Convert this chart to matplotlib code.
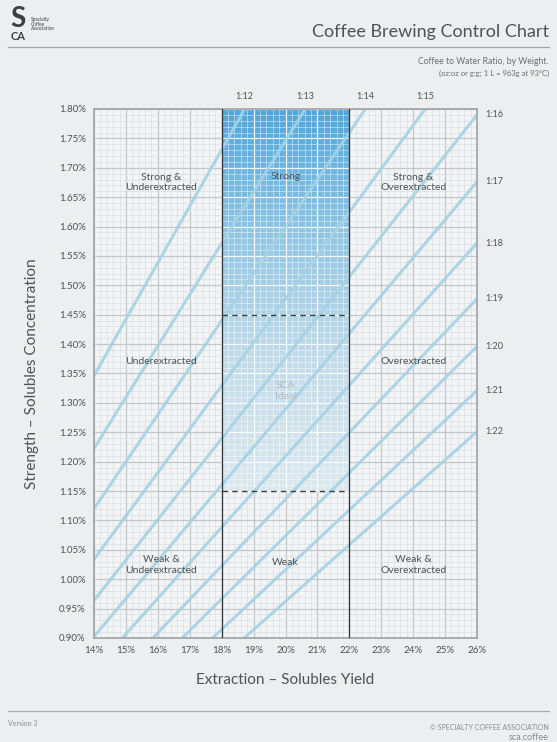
import numpy as np
import matplotlib.pyplot as plt
from matplotlib.colors import LinearSegmentedColormap

plt.rcParams['font.family'] = ['Lato', 'DejaVu Sans']

# Data
ratios = ['1:12', '1:13', '1:14', '1:15', '1:16', '1:17', '1:18', '1:19', '1:20', '1:21', '1:22']
strength_at_26 = [2.50, 2.27, 2.08, 1.92, 1.79, 1.676, 1.572, 1.477, 1.396, 1.321, 1.251]
x_ticks = [14, 15, 16, 17, 18, 19, 20, 21, 22, 23, 24, 25, 26]
y_ticks = [0.90, 0.95, 1.00, 1.05, 1.10, 1.15, 1.20, 1.25, 1.30, 1.35, 1.40, 1.45,
           1.50, 1.55, 1.60, 1.65, 1.70, 1.75, 1.80]
ideal_ey = [18, 22]
ideal_tds = [1.15, 1.45]

region_names = ['Strong &\nUnderextracted', 'Strong', 'Strong &\nOverextracted',
                'Underextracted', 'SCA\nIdeal', 'Overextracted',
                'Weak &\nUnderextracted', 'Weak', 'Weak &\nOverextracted']
region_x = [16.1, 20.0, 24.0, 16.1, 20.0, 24.0, 16.1, 20.0, 24.0]
region_y = [1.675, 1.685, 1.675, 1.371, 1.32, 1.371, 1.024, 1.029, 1.024]

page_bg = '#eceeef'
text_col = '#4e5358'

fig = plt.figure(figsize=(5.57, 7.42), dpi=100, facecolor=page_bg)
ax = fig.add_axes([0.1688, 0.1402, 0.6876, 0.7129])
ax.set_facecolor('#f3f4f5')
ax.set_xlim(14, 26)
ax.set_ylim(0.90, 1.80)

# grid
ax.set_xticks(x_ticks)
ax.set_yticks(y_ticks)
ax.set_xticks(np.arange(14, 26.01, 0.2), minor=True)
ax.set_yticks(np.arange(0.90, 1.8001, 0.01), minor=True)
ax.set_axisbelow(True)
ax.grid(which='minor', color='#dcdfe1', lw=0.5)
ax.grid(which='major', color='#c3c7ca', lw=0.9)
ax.tick_params(which='both', length=0)
ax.tick_params(labelsize=7, labelcolor=text_col, pad=6)
ax.set_xticklabels([f'{t}%' for t in x_ticks])
ax.set_yticklabels([f'{t:.2f}%' for t in y_ticks])
for s in ax.spines.values():
    s.set_color('#9ea3a7')
    s.set_linewidth(1.2)

# blue gradient in the ideal extraction column
cmap = LinearSegmentedColormap.from_list('sca', ['#dce8ee', '#c3dcea', '#93c6e3', '#4fa7da'])
grad = np.linspace(0, 1, 256).reshape(-1, 1)
ax.imshow(grad, cmap=cmap, origin='lower', aspect='auto',
          extent=[ideal_ey[0], ideal_ey[1], ideal_tds[0], 1.80], zorder=1)
mx = np.arange(ideal_ey[0], ideal_ey[1] + 0.01, 0.2)
my = np.arange(ideal_tds[0], 1.8001, 0.01)
ax.vlines(mx, ideal_tds[0], 1.80, color='white', lw=0.5, alpha=0.6, zorder=1.2)
ax.hlines(my, ideal_ey[0], ideal_ey[1], color='white', lw=0.5, alpha=0.6, zorder=1.2)
ax.vlines(np.arange(19, 22), ideal_tds[0], 1.80, color='white', lw=0.9, alpha=0.8, zorder=1.2)
ax.hlines(np.arange(1.15, 1.8001, 0.05), ideal_ey[0], ideal_ey[1], color='white', lw=0.9,
          alpha=0.8, zorder=1.2)

# brew ratio lines
for name, s26 in zip(ratios, strength_at_26):
    ax.plot([0, 26], [0, s26], color='#a6d2e4', lw=2.2, alpha=0.9, zorder=2,
            solid_capstyle='butt')
    if s26 > 1.80:
        xt = 26 * 1.80 / s26
        ax.text(xt, 1.80 + 0.013, name, ha='center', va='bottom', fontsize=6.5,
                color=text_col)
    else:
        ax.text(26.25, s26, name, ha='left', va='center', fontsize=6.5,
                color=text_col, clip_on=False)

# ideal box
ax.axvline(ideal_ey[0], color='#2f3438', lw=0.9, zorder=3)
ax.axvline(ideal_ey[1], color='#2f3438', lw=0.9, zorder=3)
ax.hlines(ideal_tds, ideal_ey[0], ideal_ey[1], colors=['#3a3f44', '#3a3f44'],
          linestyles=(0, (4, 3)), lw=1.0, zorder=3)

for name, rx, ry in zip(region_names, region_x, region_y):
    col = '#b6babe' if name.startswith('SCA') else text_col
    ax.text(rx, ry, name, ha='center', va='center', fontsize=7.5, color=col,
            linespacing=1.25, zorder=4)

ax.set_xlabel('Extraction \u2013 Solubles Yield', fontsize=11, color=text_col, labelpad=13)
ax.set_ylabel('Strength \u2013 Solubles Concentration', fontsize=11, color=text_col, labelpad=14)

# header
fig.text(549 / 557, 1 - 32 / 742, 'Coffee Brewing Control Chart', ha='right', va='center',
         fontsize=13, color=text_col)
fig.add_artist(plt.Line2D([8 / 557, 549 / 557], [1 - 47 / 742] * 2, color='#9ea3a7', lw=0.9))
fig.text(549 / 557, 1 - 62 / 742, 'Coffee to Water Ratio, by Weight.', ha='right',
         va='center', fontsize=6.2, color='#6a6f74')
fig.text(549 / 557, 1 - 73 / 742, '(oz:oz or g:g; 1 L = 963g at 93\u00b0C)', ha='right',
         va='center', fontsize=5.5, color='#6a6f74')

# logo
fig.text(18 / 557, 1 - 19 / 742, 'S', ha='center', va='center', fontsize=20,
         fontweight='bold', color='#3b4045')
fig.text(18 / 557, 1 - 37 / 742, 'CA', ha='center', va='center', fontsize=8,
         fontweight='bold', color='#3b4045')
fig.text(31 / 557, 1 - 24 / 742, 'Specialty\nCoffee\nAssociation', ha='left', va='center',
         fontsize=3.4, color='#3b4045', linespacing=1.0)

# footer
fig.add_artist(plt.Line2D([8 / 557, 549 / 557], [1 - 711 / 742] * 2, color='#a6abaf', lw=0.9))
fig.text(8 / 557, 1 - 723 / 742, 'Version 3', ha='left', va='center', fontsize=5,
         color='#8a8f94')
fig.text(549 / 557, 1 - 728 / 742, '\u00a9 SPECIALTY COFFEE ASSOCIATION', ha='right',
         va='center', fontsize=5, color='#8a8f94')
fig.text(549 / 557, 1 - 738 / 742, 'sca.coffee', ha='right', va='center', fontsize=6.5,
         color='#8a8f94')

fig.savefig('out.png', dpi=100, facecolor=page_bg)
